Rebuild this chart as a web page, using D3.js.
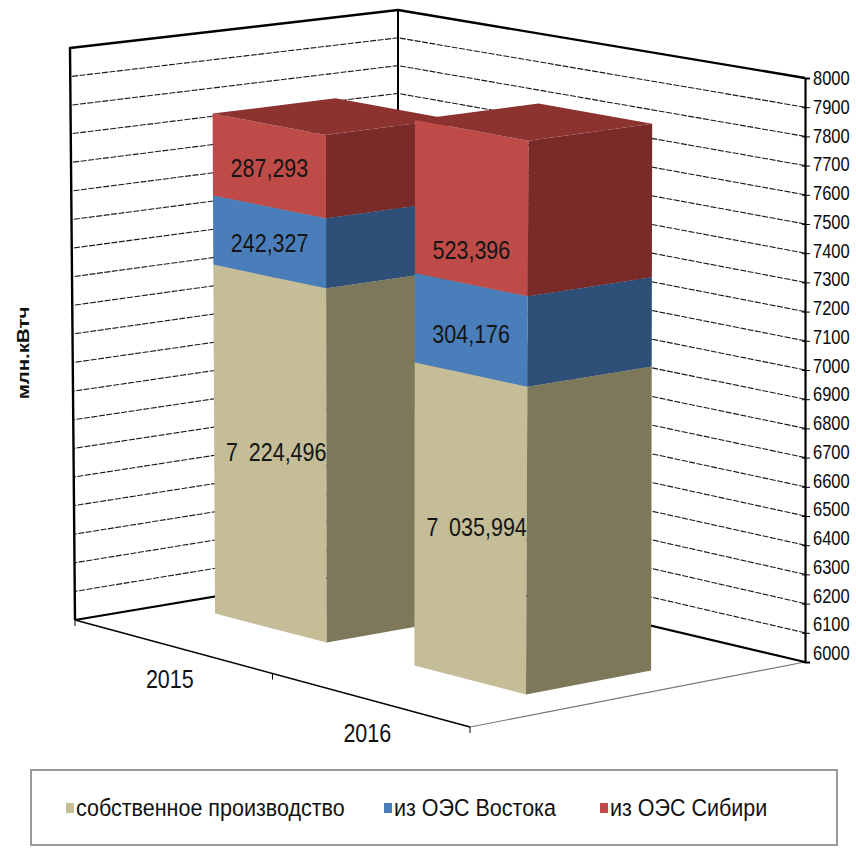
<!DOCTYPE html>
<html>
<head>
<meta charset="utf-8">
<script src="https://cdn.jsdelivr.net/npm/d3@7"></script>
<style>
  html, body { margin: 0; padding: 0; background: #fff; }
  svg { display: block; }
  text { font-family: "Liberation Sans", Arial, sans-serif; }
</style>
</head>
<body>
<svg id="chart" width="856" height="849"></svg>
<script>
// ---- data ----
const categories = ["2015", "2016"];
const seriesNames = ["собственное производство", "из ОЭС Востока", "из ОЭС Сибири"];
const ownProduction = [7224.496, 7035.994];
const fromEastUES = [242.327, 304.176];
const fromSiberiaUES = [287.293, 523.396];
const valueTicks = [6000, 6100, 6200, 6300, 6400, 6500, 6600, 6700, 6800, 6900, 7000,
                    7100, 7200, 7300, 7400, 7500, 7600, 7700, 7800, 7900, 8000];
const axisTitle = "млн.кВтч";

// ---- styles ----
const frontColors = ["#c4bd97", "#4a7ebb", "#be4b48"];
const sideColors  = ["#7c7859", "#2e4f78", "#7a2b29"];
const topColors   = ["#a39c78", "#3b6396", "#8c3330"];
const textStretch = 1.2;           // vertical stretch applied to chart text

const svg = d3.select("#chart");

// ---- stacked table built from the arrays ----
const keys = ["own", "east", "sib"];
const table = categories.map((c, i) => ({
  year: c, own: ownProduction[i], east: fromEastUES[i], sib: fromSiberiaUES[i]
}));
const stacked = d3.stack().keys(keys)(table);

// ---- 3D box scales ----
const yMin = 6000, yMax = 8000;
const heightScale = d3.scaleLinear().domain([yMin, yMax]).range([0, 1]);
const catScale = d3.scaleBand().domain(categories).range([-0.01, 0.99])
  .paddingInner(0.44).paddingOuter(0.22);
const depthRange = [0.31, 0.685];

// floor and ceiling quads of the plot box:
// a = (cat 0, depth front), b = (cat 1, front), c = (cat 0, back), d = (cat 1, back)
const floorQuad = { a: [75, 620], b: [470, 727], c: [398, 566], d: [805, 662] };
const ceilQuad  = { a: [70, 48],  b: [475, 123], c: [398, 10],  d: [805, 78] };

function bilinear(q, u, w) {
  return [0, 1].map(i =>
    (1 - u) * (1 - w) * q.a[i] + u * (1 - w) * q.b[i] + (1 - u) * w * q.c[i] + u * w * q.d[i]);
}
function project(u, w, v) {
  const t = heightScale(Math.max(yMin, v));
  const f = bilinear(floorQuad, u, w), g = bilinear(ceilQuad, u, w);
  return [f[0] + t * (g[0] - f[0]), f[1] + t * (g[1] - f[1])];
}
const poly = pts => "M" + pts.map(p => p[0].toFixed(2) + "," + p[1].toFixed(2)).join("L") + "Z";
const line = pts => "M" + pts.map(p => p[0].toFixed(2) + "," + p[1].toFixed(2)).join("L");

// ---- gridlines on both walls ----
const gridG = svg.append("g");
valueTicks.filter(v => v > yMin && v < yMax).forEach(v => {
  gridG.append("path")
    .attr("d", line([project(1, 1, v), project(0, 1, v), project(0, 0, v)]))
    .attr("fill", "none").attr("stroke", "#1a1a1a").attr("stroke-width", 1.1)
    .attr("stroke-dasharray", "6,1.5");
});

// ---- walls and floor outline ----
const wallG = svg.append("g").attr("fill", "none").attr("stroke", "#000");
wallG.append("path").attr("d", line([project(1, 0, yMin), project(1, 1, yMin)]))
  .attr("stroke", "#777").attr("stroke-width", 1.2);
wallG.append("path").attr("d", line([project(0, 0, yMin), project(1, 0, yMin)]))
  .attr("stroke-width", 1.5);
[0, 0.5, 1].forEach(u => {
  const p = project(u, 0, yMin);
  wallG.append("path").attr("d", line([p, [p[0], p[1] + 6]])).attr("stroke-width", 1);
});
wallG.append("path").attr("d", line([project(0, 0, yMin), project(0, 1, yMin), project(1, 1, yMin)]))
  .attr("stroke-width", 2.2);
wallG.append("path").attr("d", line([project(0, 0, yMin), project(0, 0, yMax), project(0, 1, yMax), project(1, 1, yMax)]))
  .attr("stroke-width", 2.4).attr("stroke-linejoin", "round");
wallG.append("path").attr("d", line([project(0, 1, yMin), project(0, 1, yMax)]))
  .attr("stroke-width", 2);

// ---- value axis on the right corner ----
const axisX = project(1, 1, yMin)[0];
const axisScale = d3.scaleLinear().domain([yMin, yMax])
  .range([project(1, 1, yMin)[1], project(1, 1, yMax)[1]]);
const axisG = svg.append("g").attr("transform", `translate(${axisX},0)`)
  .call(d3.axisRight(axisScale).tickValues(valueTicks).tickFormat(d3.format("d"))
    .tickSize(5).tickPadding(3));
axisG.select(".domain").attr("stroke", "#000").attr("stroke-width", 2.2);
axisG.selectAll(".tick line").attr("stroke", "#000").attr("x1", -3);
axisG.selectAll(".tick text")
  .attr("font-size", 16.5).attr("font-family", "Liberation Sans, Arial, sans-serif")
  .attr("fill", "#0a0a0a").attr("dy", null)
  .attr("transform", d => `translate(0,${-(1 - heightScale(d)) * 9}) scale(1,${textStretch})`)
  .attr("dominant-baseline", "central");

// ---- bars (farther category first) ----
const barG = svg.append("g");
categories.forEach((cat, ci) => {
  const u0 = catScale(cat), u1 = u0 + catScale.bandwidth();
  const [w0, w1] = depthRange;
  stacked.forEach((series, si) => {
    const lo = si === 0 ? yMin : series[ci][0];
    const hi = series[ci][1];
    const g = barG.append("g");
    g.append("path").attr("d", poly([project(u0, w0, lo), project(u1, w0, lo), project(u1, w0, hi), project(u0, w0, hi)]))
      .attr("fill", frontColors[si]);
    g.append("path").attr("d", poly([project(u1, w0, lo), project(u1, w1, lo), project(u1, w1, hi), project(u1, w0, hi)]))
      .attr("fill", sideColors[si]);
    g.append("path").attr("d", poly([project(u0, w0, hi), project(u1, w0, hi), project(u1, w1, hi), project(u0, w1, hi)]))
      .attr("fill", topColors[si]);
  });
});

// ---- data labels on the front faces ----
const ruLocale = d3.formatLocale({ decimal: ",", thousands: "\u2002", grouping: [3], currency: ["", " руб."] });
const fmt = ruLocale.format(",.3f");
// position of each label within its segment (0 = bottom, 1 = top)
const labelAnchor = [[0.5, 0.5], [0.47, 0.45], [0.47, 0.22]];
const labelG = svg.append("g");
categories.forEach((cat, ci) => {
  const uc = catScale(cat) + catScale.bandwidth() / 2;
  stacked.forEach((series, si) => {
    const lo = si === 0 ? yMin : series[ci][0];
    const hi = series[ci][1];
    const val = series[ci].data[keys[si]];
    const p = project(uc, depthRange[0], lo + (hi - lo) * labelAnchor[si][ci]);
    labelG.append("text")
      .attr("transform", `translate(${p[0] + (si === 0 ? 6 : 0)},${p[1]}) scale(1,${textStretch})`)
      .attr("text-anchor", "middle").attr("dominant-baseline", "central")
      .attr("font-size", 21.5).attr("fill", "#151515")
      .text(fmt(val));
  });
});

// ---- category labels ----
categories.forEach(cat => {
  const p = project(catScale(cat) + catScale.bandwidth() / 2, 0, yMin);
  svg.append("text")
    .attr("transform", `translate(${p[0]},${p[1] + 34}) scale(1,${textStretch})`)
    .attr("text-anchor", "middle").attr("dominant-baseline", "central")
    .attr("font-size", 21.5).attr("fill", "#111")
    .text(cat);
});

// ---- axis title ----
svg.append("text")
  .attr("transform", `translate(23,353) rotate(-90) scale(${textStretch},1)`)
  .attr("text-anchor", "middle").attr("dominant-baseline", "central")
  .attr("font-size", 17).attr("font-weight", "bold").attr("fill", "#111")
  .text(axisTitle);

// ---- legend ----
const legendG = svg.append("g");
legendG.append("rect").attr("x", 31).attr("y", 770).attr("width", 806).attr("height", 75)
  .attr("fill", "none").attr("stroke", "#9a9a9a").attr("stroke-width", 2);
const legendX = [66, 384, 600];
seriesNames.forEach((name, i) => {
  legendG.append("rect").attr("x", legendX[i]).attr("y", 803).attr("width", 8).attr("height", 10)
    .attr("fill", frontColors[i]);
  legendG.append("text")
    .attr("transform", `translate(${legendX[i] + 10},808) scale(1,1.1)`)
    .attr("dominant-baseline", "central")
    .attr("font-size", 21.5).attr("fill", "#111")
    .text(name);
});
</script>
</body>
</html>
